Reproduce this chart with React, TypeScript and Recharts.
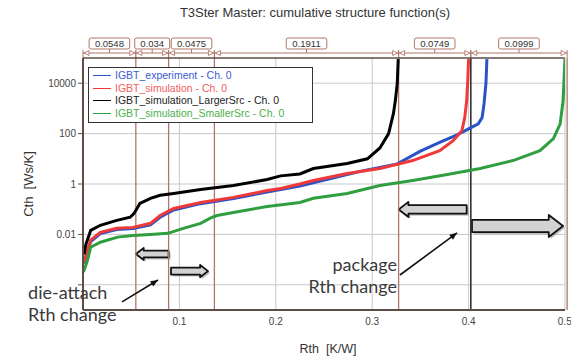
import React from 'react';
import {
  LineChart, Line, XAxis, YAxis, CartesianGrid, ReferenceLine, ReferenceArea,
  ReferenceDot, Legend,
} from 'recharts';

const TITLE = 'T3Ster Master: cumulative structure function(s)';

// Rth [K/W] and Cth [Ws/K]
const expRth = [0.001, 0.008, 0.018, 0.035, 0.052, 0.07, 0.08, 0.094, 0.108, 0.122, 0.156, 0.191, 0.225, 0.257, 0.291, 0.326, 0.35, 0.37, 0.388, 0.4, 0.41, 0.414, 0.416, 0.418, 0.419];
const expCth = [0.0007, 0.0052, 0.0107, 0.0155, 0.017, 0.024, 0.048, 0.093, 0.126, 0.166, 0.263, 0.48, 0.83, 1.66, 3.4, 6.3, 20, 45, 89, 155, 245, 430, 1500, 10000, 90000];

const simRth = [0.001, 0.008, 0.018, 0.035, 0.052, 0.07, 0.08, 0.094, 0.108, 0.122, 0.156, 0.191, 0.205, 0.225, 0.239, 0.274, 0.308, 0.342, 0.37, 0.384, 0.393, 0.396, 0.398, 0.399, 0.4];
const simCth = [0.0008, 0.0059, 0.012, 0.0174, 0.019, 0.0275, 0.056, 0.107, 0.141, 0.186, 0.295, 0.55, 0.66, 1.0, 1.38, 2.6, 4.1, 8.5, 21, 52, 130, 430, 2000, 10000, 90000];

const largeRth = [0.001, 0.003, 0.008, 0.018, 0.035, 0.049, 0.053, 0.059, 0.07, 0.08, 0.094, 0.122, 0.156, 0.191, 0.205, 0.225, 0.239, 0.274, 0.295, 0.308, 0.317, 0.322, 0.324, 0.326, 0.327];
const largeCth = [0.0016, 0.004, 0.0145, 0.023, 0.036, 0.048, 0.068, 0.17, 0.27, 0.355, 0.42, 0.6, 0.87, 1.5, 2.1, 2.5, 4.1, 6.5, 10, 27, 100, 620, 2000, 10000, 90000];

const smallRth = [0.0005, 0.0047, 0.008, 0.018, 0.036, 0.052, 0.07, 0.088, 0.104, 0.122, 0.132, 0.139, 0.156, 0.191, 0.225, 0.239, 0.274, 0.308, 0.342, 0.378, 0.412, 0.446, 0.474, 0.488, 0.495, 0.498, 0.5];
const smallCth = [0.00032, 0.00095, 0.0031, 0.0049, 0.0078, 0.0091, 0.01, 0.011, 0.0174, 0.0275, 0.044, 0.056, 0.074, 0.129, 0.186, 0.27, 0.42, 0.87, 1.38, 2.4, 4.1, 8.5, 21, 63, 245, 2000, 90000];

// structure widths shown in the boxes above the plot
const SEGMENTS = [0.0548, 0.034, 0.0475, 0.1911, 0.0749, 0.0999];

const X_TICKS = [0.1, 0.2, 0.3, 0.4, 0.5];
const Y_TICKS = [0.0001, 0.01, 1, 100, 10000];

const SERIES = [
  { name: 'IGBT_experiment - Ch. 0', rth: expRth, cth: expCth, color: '#2c52c8', text: '#3a5cd0' },
  { name: 'IGBT_simulation - Ch. 0', rth: simRth, cth: simCth, color: '#f03a3a', text: '#f06060' },
  { name: 'IGBT_simulation_LargerSrc - Ch. 0', rth: largeRth, cth: largeCth, color: '#000000', text: '#222222' },
  { name: 'IGBT_simulation_SmallerSrc - Ch. 0', rth: smallRth, cth: smallCth, color: '#2f9e3f', text: '#4cb04c' },
];
const DRAW_ORDER = [0, 1, 3, 2];

// annotation arrows (data coords)
const BLOCK_ARROWS = [
  { x1: 0.0548, x2: 0.0888, y1: 0.00096, y2: 0.0029, dir: 'left' },
  { x1: 0.0913, x2: 0.1297, y1: 0.0002, y2: 0.00061, dir: 'right' },
  { x1: 0.3274, x2: 0.398, y1: 0.049, y2: 0.195, dir: 'left' },
  { x1: 0.4035, x2: 0.498, y1: 0.0079, y2: 0.059, dir: 'right' },
];
const POINTERS = [
  { from: { x: 0.0405, y: 0.000021 }, to: { x: 0.0778, y: 0.000155 } },
  { from: { x: 0.3288, y: 0.000245 }, to: { x: 0.388, y: 0.0115 } },
];
const NOTES = [
  { x: -0.057, y: 0.0000275, lines: ['die-attach', 'Rth change'], anchor: 'start' },
  { x: 0.3257, y: 0.00035, lines: ['package', 'Rth change'], anchor: 'end' },
];

const BROWN = '#b0766a';
const AXIS = '#5e4c46';
const FONT = '"Liberation Sans", Arial, sans-serif';
const NOTE_FONT = 'Lato, "Open Sans", sans-serif';

const boundaries = SEGMENTS.reduce<number[]>((acc, w) => [...acc, acc[acc.length - 1] + w], [0]);

const bracketShape = (label: string) => (p: any) => {
  const { x, y, width } = p;
  const by = y - 5;
  const mid = x + width / 2;
  const bw = label.length * 5.6 + 7;
  const r = x + width;
  return (
    <g>
      <line x1={x} y1={by} x2={r} y2={by} stroke={BROWN} strokeWidth={1.2} />
      <line x1={x} y1={by - 3} x2={x} y2={y} stroke={BROWN} />
      <line x1={r} y1={by - 3} x2={r} y2={y} stroke={BROWN} />
      <polygon points={`${x + 1},${by} ${x + 6},${by - 2.5} ${x + 6},${by + 2.5}`} fill="#fff" stroke={BROWN} strokeWidth={0.9} />
      <polygon points={`${r - 1},${by} ${r - 6},${by - 2.5} ${r - 6},${by + 2.5}`} fill="#fff" stroke={BROWN} strokeWidth={0.9} />
      <line x1={mid} y1={by - 5} x2={mid} y2={by} stroke={BROWN} />
      <rect x={mid - bw / 2} y={y - 20} width={bw} height={11} rx={2} fill="#fff" stroke={BROWN} />
      <text x={mid} y={y - 11.5} textAnchor="middle" fontSize={9.5} fontFamily={FONT} fill="#333">{label}</text>
    </g>
  );
};

const blockArrow = (dir: string) => (p: any) => {
  const { x, y, width: w, height: h } = p;
  const hl = h * 0.65;
  const t = y + h * 0.22;
  const b = y + h * 0.78;
  const m = y + h / 2;
  const pts = dir === 'right'
    ? [[x, t], [x + w - hl, t], [x + w - hl, y], [x + w, m], [x + w - hl, y + h], [x + w - hl, b], [x, b]]
    : [[x + w, t], [x + hl, t], [x + hl, y], [x, m], [x + hl, y + h], [x + hl, b], [x + w, b]];
  const s = pts.map((q) => q.join(',')).join(' ');
  return (
    <g>
      <polygon points={s} transform="translate(2,2)" fill="#777" opacity={0.45} />
      <polygon points={s} fill="#d2d2d2" stroke="#111" strokeWidth={1.8} strokeLinejoin="round" />
    </g>
  );
};

const pointerShape = (p: any) => {
  const { x1, y1, x2, y2 } = p;
  const a = Math.atan2(y2 - y1, x2 - x1);
  const L = 8;
  const hx1 = x2 - L * Math.cos(a - 0.4);
  const hy1 = y2 - L * Math.sin(a - 0.4);
  const hx2 = x2 - L * Math.cos(a + 0.4);
  const hy2 = y2 - L * Math.sin(a + 0.4);
  return (
    <g>
      <line x1={x1} y1={y1} x2={x2} y2={y2} stroke="#111" strokeWidth={1.6} />
      <polygon points={`${x2},${y2} ${hx1},${hy1} ${hx2},${hy2}`} fill="#111" />
    </g>
  );
};

const noteShape = (lines: string[], anchor: string) => (p: any) => (
  <g>
    {lines.map((t, i) => (
      <text key={t} x={p.cx} y={p.cy + i * 22} textAnchor={anchor} fontSize={18} fontFamily={NOTE_FONT} fill="#3a3a3a">{t}</text>
    ))}
  </g>
);

const renderLegend = () => (
  <div style={{
    width: 225, height: 56, border: '1px solid #333', background: '#fff', boxSizing: 'border-box',
    padding: '1px 0 0 4px', fontSize: 10.5, lineHeight: '12.7px', fontFamily: FONT,
  }}>
    {SERIES.map((s) => (
      <div key={s.name} style={{ display: 'flex', alignItems: 'center', color: s.text, whiteSpace: 'nowrap' }}>
        <span style={{ display: 'inline-block', width: 18, borderTop: `1.3px solid ${s.color}`, marginRight: 4 }} />
        {s.name}
      </div>
    ))}
  </div>
);

const fmtY = (v: number) => (v >= 1 ? String(v) : v === 0.01 ? '0.01' : '');

export default function App() {
  return (
    <div style={{ position: 'absolute', left: 0, top: 0, width: 571, height: 361, background: '#fff', fontFamily: FONT }}>
      <div style={{ position: 'absolute', left: 115, top: 5, width: 400, textAlign: 'center', fontSize: 13, color: '#333' }}>
        {TITLE}
      </div>
      <LineChart width={571} height={361} margin={{ top: 58, right: 6, bottom: 21, left: 0 }}>
        <CartesianGrid stroke="#c8c8c8" strokeWidth={1} horizontalValues={Y_TICKS} verticalValues={X_TICKS} />
        <XAxis
          type="number"
          dataKey="rth"
          domain={[0, 0.5]}
          ticks={X_TICKS}
          allowDataOverflow
          tickLine={false}
          axisLine={{ stroke: AXIS, strokeWidth: 2 }}
          tick={{ fontSize: 10, fill: '#444', fontFamily: FONT }}
          height={30}
          label={{
            content: (props: any) => {
              const vb = props.viewBox;
              return (
                <text x={vb.x + vb.width / 2 + 4} y={353} textAnchor="middle" fontSize={12.5} fontFamily={FONT} fill="#333">
                  {'Rth\u00a0\u00a0[K/W]'}
                </text>
              );
            },
          }}
        />
        <YAxis
          scale="log"
          domain={[0.00001, 100000]}
          ticks={Y_TICKS}
          allowDataOverflow
          tickFormatter={fmtY}
          tickSize={5}
          tickLine={{ stroke: AXIS }}
          axisLine={{ stroke: AXIS, strokeWidth: 2 }}
          tick={{ fontSize: 10, fill: '#444', fontFamily: FONT }}
          width={83}
          label={{
            content: (props: any) => {
              const vb = props.viewBox;
              const cx = 30;
              const cy = vb.y + vb.height / 2;
              return (
                <text x={cx} y={cy} transform={`rotate(-90 ${cx} ${cy})`} textAnchor="middle" dominantBaseline="middle" fontSize={13} fontFamily={FONT} fill="#333">
                  {'Cth\u00a0\u00a0[Ws/K]'}
                </text>
              );
            },
          }}
        />
        {boundaries.slice(1).map((b, i) => (
          <ReferenceLine key={`b${i}`} x={b} stroke={i === 4 ? '#333' : BROWN} strokeWidth={i === 4 ? 1.6 : 1.3} ifOverflow="visible" />
        ))}
        <ReferenceLine y={100000} stroke={AXIS} strokeWidth={1.5} />
        {SEGMENTS.map((w, i) => (
          <ReferenceArea key={`s${i}`} x1={boundaries[i]} x2={boundaries[i + 1]} y1={0.00001} y2={100000} ifOverflow="visible" shape={bracketShape(String(w))} />
        ))}
        {DRAW_ORDER.map((k) => {
          const s = SERIES[k];
          return (
            <Line
              key={s.name}
              name={s.name}
              data={s.rth.map((r, i) => ({ rth: r, cth: s.cth[i] }))}
              dataKey="cth"
              type="linear"
              stroke={s.color}
              strokeWidth={3}
              dot={false}
              isAnimationActive={false}
            />
          );
        })}
        {BLOCK_ARROWS.map((a, i) => (
          <ReferenceArea key={`a${i}`} x1={a.x1} x2={a.x2} y1={a.y1} y2={a.y2} ifOverflow="visible" shape={blockArrow(a.dir)} />
        ))}
        {POINTERS.map((p, i) => (
          <ReferenceLine key={`p${i}`} segment={[p.from, p.to]} ifOverflow="visible" shape={pointerShape} />
        ))}
        {NOTES.map((n, i) => (
          <ReferenceDot key={`n${i}`} x={n.x} y={n.y} ifOverflow="visible" shape={noteShape(n.lines, n.anchor)} />
        ))}
        <Legend
          layout="vertical"
          align="center"
          verticalAlign="middle"
          content={renderLegend}
          wrapperStyle={{ left: 88, top: 67, width: 225, height: 56 }}
        />
      </LineChart>
    </div>
  );
}
